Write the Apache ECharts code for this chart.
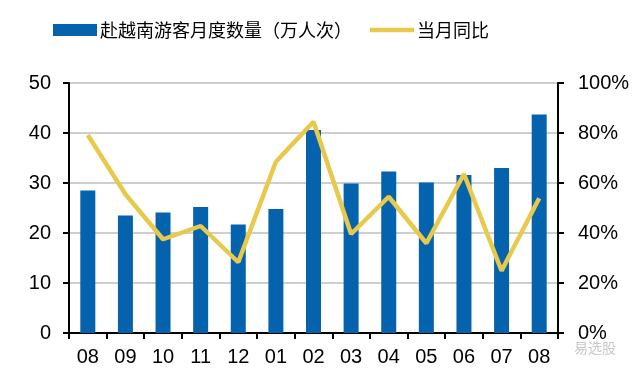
<!DOCTYPE html>
<html><head><meta charset="utf-8">
<script src="https://cdn.jsdelivr.net/npm/echarts@6/dist/echarts.min.js"></script>
<style>html,body{margin:0;padding:0;background:#fff}#c{width:640px;height:377px}</style>
</head><body><div id="c"></div>
<script>
var categories = ['08','09','10','11','12','01','02','03','04','05','06','07','08'];
var visitors = [28.5, 23.5, 24.1, 25.2, 21.7, 24.8, 40.6, 29.9, 32.3, 30.1, 31.6, 33.0, 43.7];
var yoy = [79.2, 55.5, 37.5, 42.8, 28.3, 68.5, 84.5, 39.6, 54.5, 35.9, 63.6, 24.9, 53.9];
var leftTicks = [0, 10, 20, 30, 40, 50];
var rightTicks = [0, 20, 40, 60, 80, 100];
var barName = '赴越南游客月度数量（万人次）';
var lineName = '当月同比';

var chart = echarts.init(document.getElementById('c'), null, {renderer: 'canvas'});
var axisFont = {fontFamily: 'Liberation Sans', fontSize: 20, color: '#000'};
chart.setOption({
  animation: false,
  backgroundColor: '#fff',
  legend: {
    top: 16,
    left: 48,
    itemGap: 18,
    itemWidth: 44,
    itemHeight: 12,
    textStyle: {fontFamily: 'Noto Sans CJK SC', fontSize: 18, color: '#000', padding: [0,0,0,-2]},
    data: [
      {name: barName, icon: 'rect'},
      {name: lineName, icon: 'path://M0,0 L10,0 L10,1 L0,1 Z', itemStyle: {color: '#e8c94b'}}
    ]
  },
  grid: {left: 69, right: 82, top: 83, bottom: 44},
  xAxis: {
    type: 'category',
    data: categories,
    boundaryGap: true,
    axisLine: {lineStyle: {color: '#000', width: 2}},
    axisTick: {show: true, alignWithLabel: false, length: 6, lineStyle: {color: '#000', width: 2}},
    axisLabel: Object.assign({margin: 14, interval: 0}, axisFont)
  },
  yAxis: [
    {
      type: 'value', min: leftTicks[0], max: leftTicks[leftTicks.length-1], interval: 10,
      axisLine: {show: true, lineStyle: {color: '#000', width: 2}},
      axisTick: {show: true, length: 6, lineStyle: {color: '#000', width: 2}},
      splitLine: {show: true, lineStyle: {color: '#bfbfbf', width: 1.5}},
      axisLabel: Object.assign({margin: 18}, axisFont)
    },
    {
      type: 'value', min: rightTicks[0], max: rightTicks[rightTicks.length-1], interval: 20,
      position: 'right',
      axisLine: {show: true, lineStyle: {color: '#000', width: 2}},
      axisTick: {show: true, length: 6, lineStyle: {color: '#000', width: 2}},
      splitLine: {show: false},
      axisLabel: Object.assign({margin: 20, formatter: '{value}%'}, axisFont)
    }
  ],
  series: [
    {
      name: barName, type: 'bar', data: visitors, barWidth: 15,
      itemStyle: {color: '#0563ad'}, yAxisIndex: 0
    },
    {
      name: lineName, type: 'line', data: yoy, yAxisIndex: 1,
      symbol: 'none', lineStyle: {color: '#e8c94b', width: 4.5},
      itemStyle: {color: '#e8c94b'}
    }
  ],
  graphic: [
    {type: 'text', left: 574, top: 341, style: {text: '易选股', fill: '#c8c8c8', fontFamily: 'Noto Sans CJK SC', fontSize: 14}}
  ]
});
</script></body></html>
